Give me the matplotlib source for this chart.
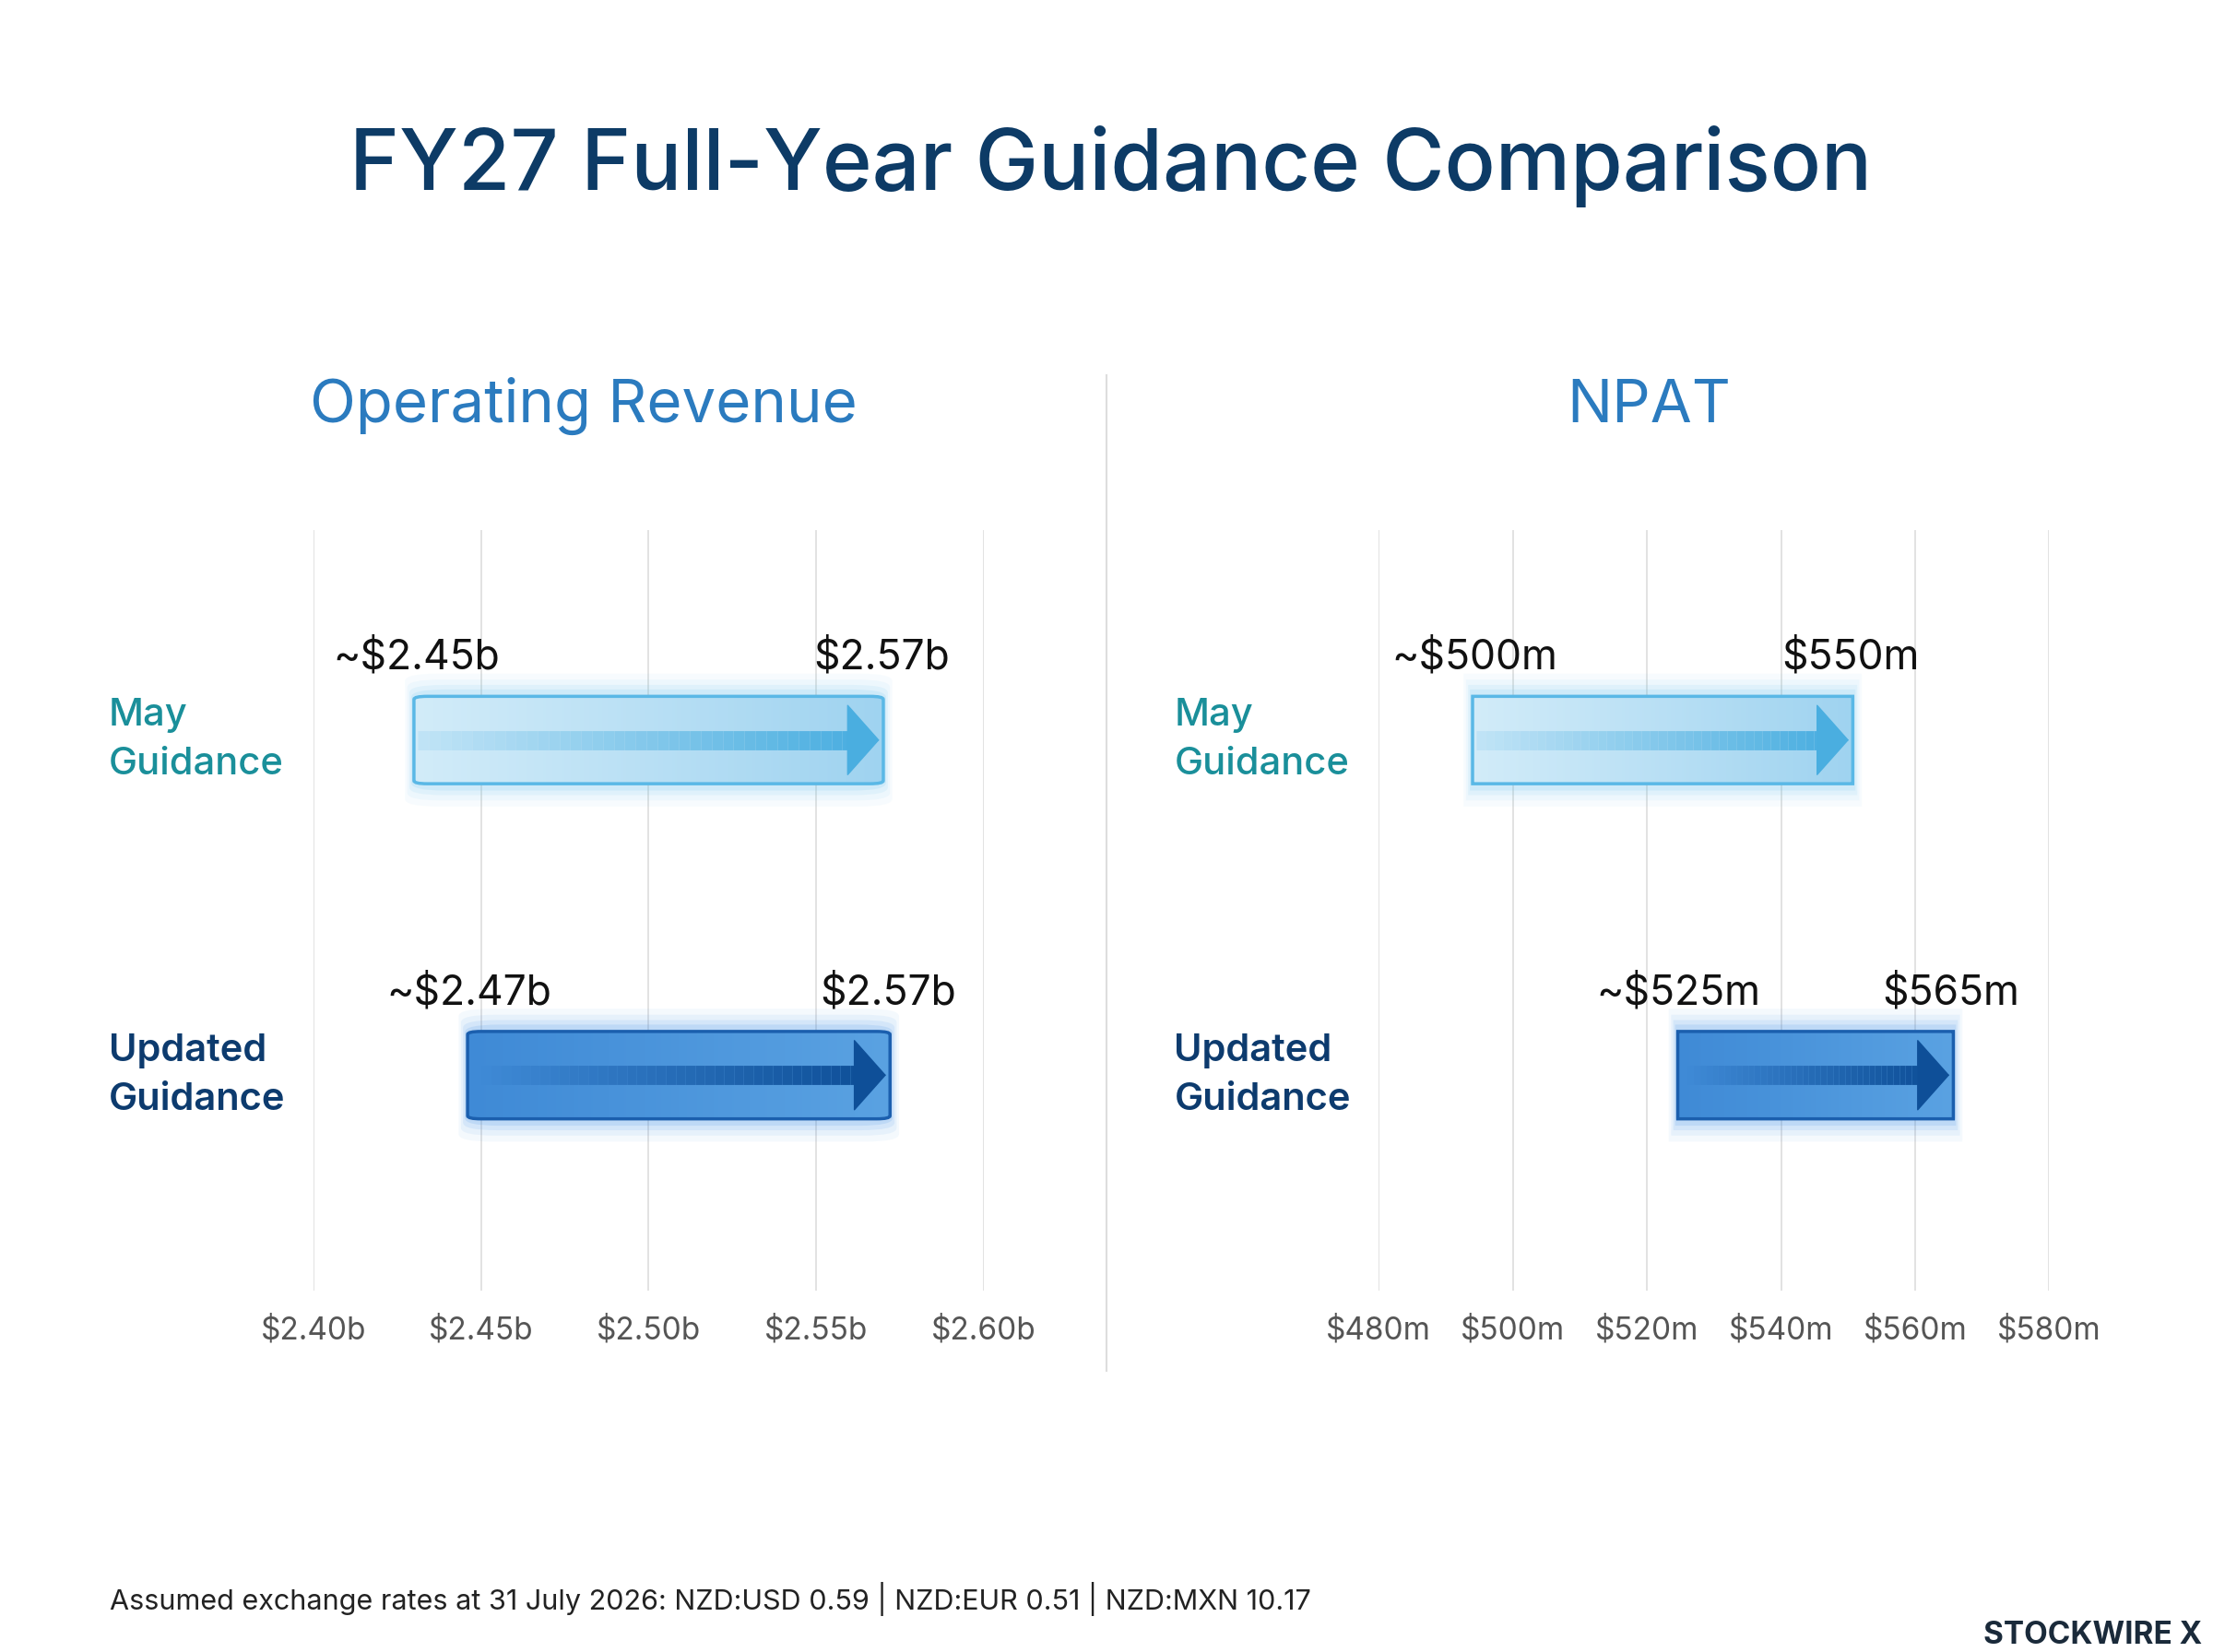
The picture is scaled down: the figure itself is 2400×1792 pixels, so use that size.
import matplotlib
matplotlib.use("Agg")
import matplotlib.pyplot as plt
from matplotlib.patches import FancyBboxPatch
from matplotlib.colors import LinearSegmentedColormap
import matplotlib.transforms as mtransforms
import numpy as np

plt.rcParams['font.family'] = ['Inter', 'DejaVu Sans']

categories = ["May\nGuidance", "Updated\nGuidance"]
rev_low = [2.43, 2.446]
rev_high = [2.57, 2.572]
rev_low_lbl = ["~$2.45b", "~$2.47b"]
rev_high_lbl = ["$2.57b", "$2.57b"]
rev_ticks = [2.40, 2.45, 2.50, 2.55, 2.60]
rev_tick_lbl = ["$2.40b", "$2.45b", "$2.50b", "$2.55b", "$2.60b"]

npat_low = [494, 524.6]
npat_high = [550.7, 565.7]
npat_low_lbl = ["~$500m", "~$525m"]
npat_high_lbl = ["$550m", "$565m"]
npat_ticks = [480, 500, 520, 540, 560, 580]
npat_tick_lbl = ["$480m", "$500m", "$520m", "$540m", "$560m", "$580m"]

ypos = [0.724, 0.283]
bh = 0.115

fig = plt.figure(figsize=(24, 17.92), dpi=100)
fig.patch.set_facecolor("white")

fig.text(0.502, 0.899, "FY27 Full-Year Guidance Comparison", ha="center", va="center",
         fontsize=66, color="#0d3b66", fontweight="medium")

styles = [
    dict(c0="#d2ecf9", c1="#9fd3f0", edge="#5ab8e6", a0="#bfe3f6", a1="#4aaee0", glow="#6cc4f0"),
    dict(c0="#3f8ad6", c1="#5aa2e2", edge="#1b5fae", a0="#3f8ad6", a1="#0e4f98", glow="#3a8ee8"),
]
cat_colors = ["#1a8f9a", "#0d3b6e"]
cat_weights = ["medium", "semibold"]

def panel(left, title, lows, highs, llbl, hlbl, ticks, tlbl):
    ax = fig.add_axes([left, 0.219, 0.303, 0.46])
    ax.set_xlim(ticks[0], ticks[-1])
    ax.set_ylim(0, 1)
    for s in ax.spines.values():
        s.set_visible(False)
    ax.set_yticks([])
    ax.set_xticks(ticks)
    ax.set_xticklabels(tlbl, fontsize=24, color="#555555")
    ax.tick_params(axis="x", length=0, pad=20)
    for t in ticks:
        ax.axvline(t, color="#dddddd", lw=1.2, zorder=0)
    fig.text(left + 0.1515 - 0.0295, 0.754, title, ha="center", va="center",
             fontsize=47, color="#2b7bbf")
    span = ticks[-1] - ticks[0]
    for i in range(2):
        st = styles[i]
        lo, hi, y = lows[i], highs[i], ypos[i]
        for k, a in zip([0.030, 0.022, 0.015, 0.009], [0.05, 0.07, 0.10, 0.14]):
            ax.add_patch(FancyBboxPatch((lo - k * span * 0.45, y - bh / 2 - k), hi - lo + k * span * 0.9,
                                        bh + 2 * k, boxstyle="round,pad=0,rounding_size=0.01",
                                        facecolor=st["glow"], edgecolor="none", alpha=a, zorder=1))
        box = FancyBboxPatch((lo, y - bh / 2), hi - lo, bh,
                             boxstyle="round,pad=0,rounding_size=0.004",
                             facecolor="none", edgecolor=st["edge"], lw=2.5, zorder=3)
        ax.add_patch(box)
        cmap = LinearSegmentedColormap.from_list("g", [st["c0"], st["c1"]])
        im = ax.imshow(np.linspace(0, 1, 256)[None, :], cmap=cmap, aspect="auto",
                       extent=(lo, hi, y - bh / 2, y + bh / 2), zorder=2)
        im.set_clip_path(box)
        acmap = LinearSegmentedColormap.from_list("a", [st["a0"], st["a1"]])
        n = 40
        xs = np.linspace(lo + span * 0.006, hi - span * 0.045, n + 1)
        for j in range(n):
            ax.plot([xs[j], xs[j + 1]], [y, y], color=acmap(j / n), lw=15,
                    solid_capstyle="butt", zorder=4)
        ax.annotate("", xy=(hi - span * 0.006, y), xytext=(hi - span * 0.05, y),
                    arrowprops=dict(arrowstyle="-|>,head_length=0.4,head_width=0.45",
                                    mutation_scale=60, color=st["a1"], lw=1,
                                    shrinkA=0, shrinkB=0), zorder=5)
        off_l = mtransforms.offset_copy(ax.transData, fig=fig, x=-88, y=0, units="dots")
        off_r = mtransforms.offset_copy(ax.transData, fig=fig, x=72, y=0, units="dots")
        ax.text(lo, y + 0.108, llbl[i], transform=off_l, ha="left", va="center",
                fontsize=32, color="#111111")
        ax.text(hi, y + 0.108, hlbl[i], transform=off_r, ha="right", va="center",
                fontsize=32, color="#111111")
        ax.text(-0.305, y, categories[i], transform=ax.transAxes, ha="left", va="center",
                fontsize=30, color=cat_colors[i], fontweight=cat_weights[i], linespacing=1.5)
    return ax

panel(0.1416, "Operating Revenue", rev_low, rev_high, rev_low_lbl, rev_high_lbl, rev_ticks, rev_tick_lbl)
panel(0.623, "NPAT", npat_low, npat_high, npat_low_lbl, npat_high_lbl, npat_ticks, npat_tick_lbl)

fig.add_artist(plt.Line2D([0.5, 0.5], [0.170, 0.773], color="#dddddd", lw=1.5))

fig.text(0.0497, 0.032, "Assumed exchange rates at 31 July 2026: NZD:USD 0.59 | NZD:EUR 0.51 | NZD:MXN 10.17",
         ha="left", va="center", fontsize=22, color="#222222")
fig.text(0.995, 0.010, "STOCKWIRE X", ha="right", va="center", fontsize=24, color="#1a2a3a",
         fontweight="bold")

fig.savefig("out.png", dpi=100, facecolor="white")
